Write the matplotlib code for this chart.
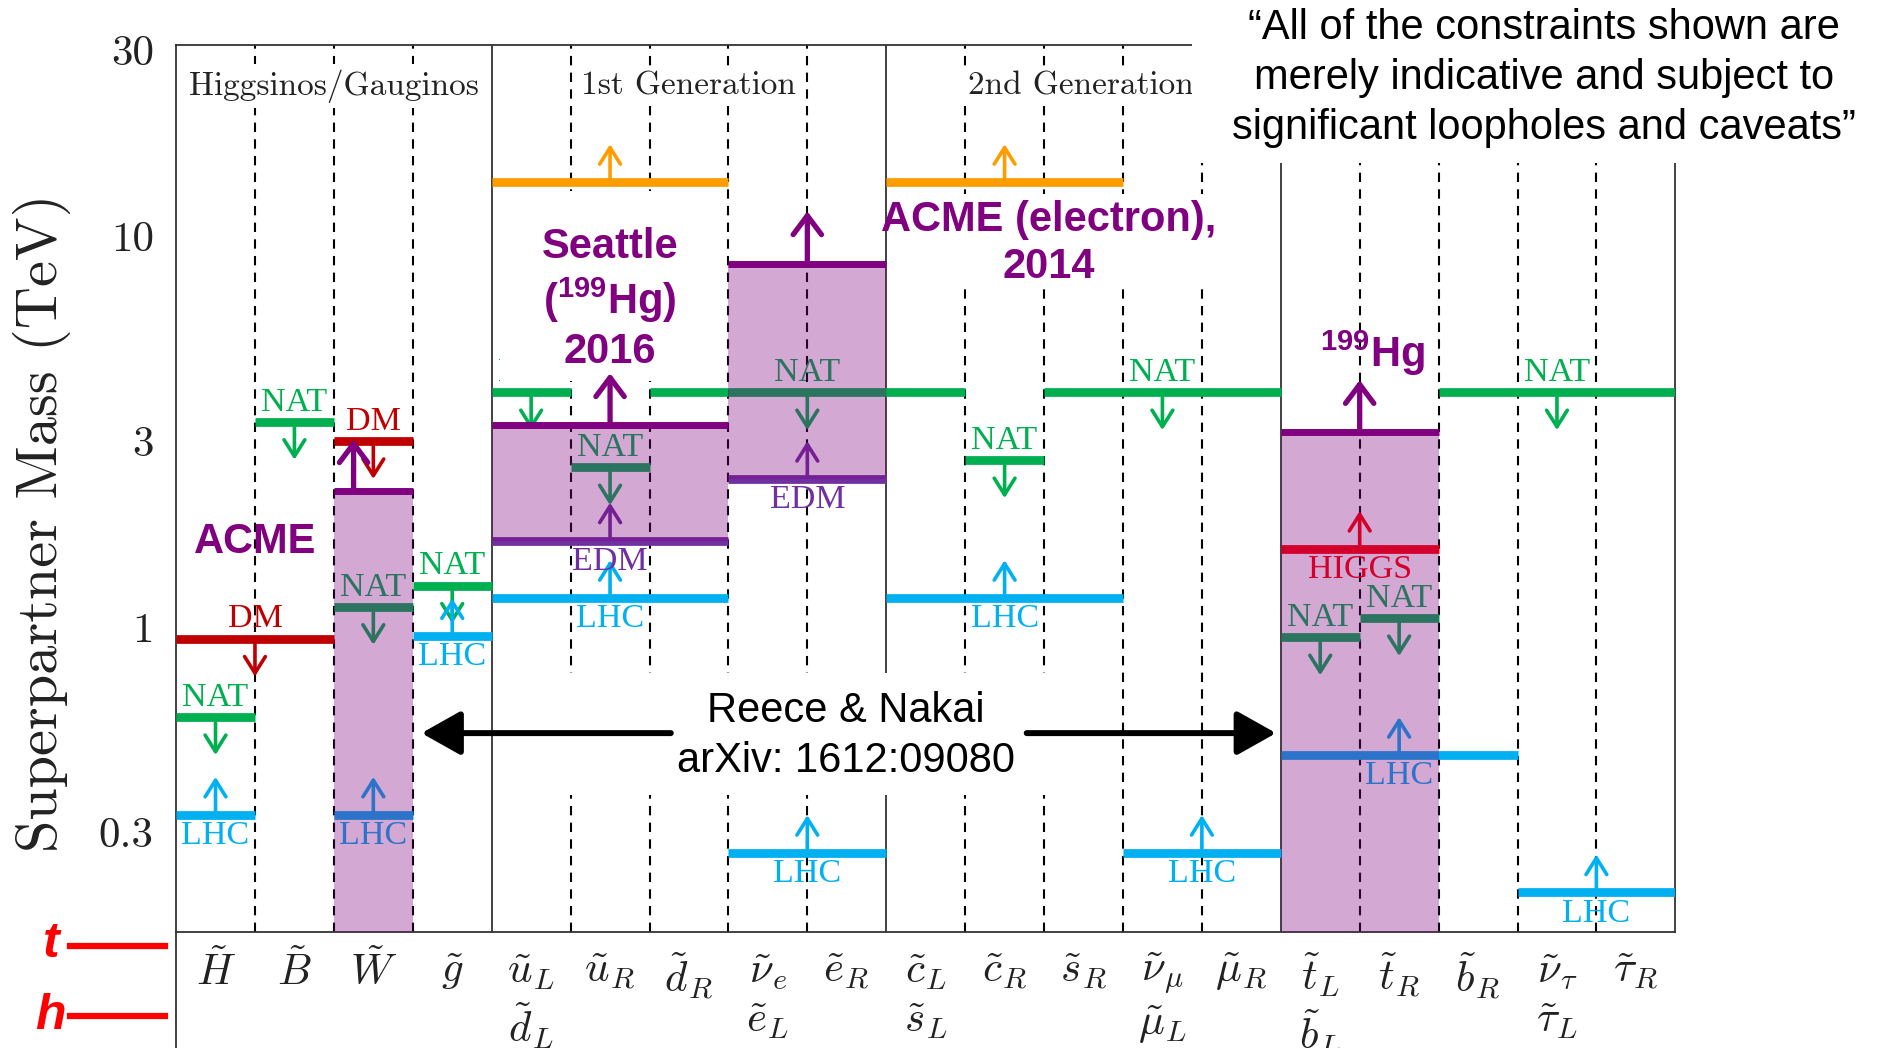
import matplotlib.pyplot as plt
from matplotlib.patches import Rectangle
from matplotlib.lines import Line2D
import numpy as np

plt.rcParams['mathtext.fontset'] = 'cm'
plt.rcParams['mathtext.rm'] = 'Liberation Sans'
plt.rcParams['mathtext.bf'] = 'Liberation Sans:bold'

# superpartner columns (one per column on the x axis)
columns = [r'$\tilde{H}$', r'$\tilde{B}$', r'$\tilde{W}$', r'$\tilde{g}$',
           '$\\tilde{u}_L$\n$\\tilde{d}_L$', r'$\tilde{u}_R$', r'$\tilde{d}_R$',
           '$\\tilde{\\nu}_e$\n$\\tilde{e}_L$', r'$\tilde{e}_R$',
           '$\\tilde{c}_L$\n$\\tilde{s}_L$', r'$\tilde{c}_R$', r'$\tilde{s}_R$',
           '$\\tilde{\\nu}_\\mu$\n$\\tilde{\\mu}_L$', r'$\tilde{\mu}_R$',
           '$\\tilde{t}_L$\n$\\tilde{b}_L$', r'$\tilde{t}_R$', r'$\tilde{b}_R$',
           '$\\tilde{\\nu}_\\tau$\n$\\tilde{\\tau}_L$', r'$\tilde{\tau}_R$']
groups = ['Higgsinos/Gauginos', '1st Generation', '2nd Generation']
group_edges = [4, 9, 14]

# naturalness upper bounds (TeV)
nat_start = [0, 1, 2, 3, 4, 5, 6, 7, 9, 10, 11, 14, 15, 16]
nat_end = [1, 2, 3, 4, 5, 6, 7, 9, 10, 11, 14, 15, 16, 19]
nat_mass = [0.59, 3.36, 1.13, 1.28, 4.0, 2.57, 4.0, 4.0, 4.0, 2.68, 4.0, 0.944, 1.057, 4.0]
nat_at = [0.5, 1.5, 2.5, 3.5, 4.5, 5.5, None, 8.0, None, 10.5, 12.5, 14.5, 15.5, 17.5]

# LHC lower bounds (TeV)
lhc_start = [0, 2, 3, 4, 7, 9, 12, 14, 17]
lhc_end = [1, 3, 4, 7, 9, 12, 14, 17, 19]
lhc_mass = [0.332, 0.332, 0.95, 1.19, 0.265, 1.19, 0.265, 0.472, 0.21]
lhc_at = [0.5, 2.5, 3.5, 5.5, 8.0, 10.5, 13.0, 15.5, 18.0]

# dark matter upper bounds
dm_start = [0, 2]
dm_end = [2, 3]
dm_mass = [0.937, 3.0]
dm_at = [1.0, 2.5]

# higgs mass lower bound
higgs_start = [14]
higgs_end = [16]
higgs_mass = [1.59]
higgs_at = [15.0]

# flavor (orange) lower bounds
flav_start = [4, 9]
flav_end = [7, 12]
flav_mass = [13.8, 13.8]
flav_at = [5.5, 10.5]

# previous EDM bounds
edm_start = [4, 7]
edm_end = [7, 9]
edm_mass = [1.67, 2.40]
edm_at = [5.5, 8.0]

# new EDM reach (shaded), None = from bottom of axis
new_start = [2, 4, 7, 14]
new_end = [3, 7, 9, 16]
new_low = [None, 1.67, 2.40, None]
new_high = [2.23, 3.29, 8.54, 3.16]
new_at = [2.25, 5.5, 8.0, 15.0]

ylo, yhi = 0.166, 30.85

fig = plt.figure(figsize=(18.79, 10.48), dpi=100)
ax = fig.add_axes([0.0937, 0.1103, 0.7979, 0.8463])
ax.set_yscale('log')
ax.set_xlim(0, 19)
ax.set_ylim(ylo, yhi)

for s in ax.spines.values():
    s.set_color('#333333')
    s.set_linewidth(1.3)

for i in range(1, 19):
    if i in group_edges:
        ax.axvline(i, color='#333333', lw=1.3, zorder=1)
    else:
        ax.axvline(i, color='black', lw=1.5, ls=(0, (4.5, 3.5)), zorder=1)

lab_font = dict(family='Liberation Serif', fontsize=24.5, ha='center', va='center', zorder=3)
ARR = 1.25


def bound(x0, x1, m, xm, color, label, up, below):
    ax.hlines(m, x0, x1, colors=color, lw=6.3, zorder=3)
    if xm is None:
        return
    tip = m * ARR if up else m / ARR
    ax.annotate('', xy=(xm, tip), xytext=(xm, m),
                arrowprops=dict(arrowstyle='->, head_length=0.35, head_width=0.22',
                                color=color, lw=2.6, mutation_scale=34,
                                shrinkA=0, shrinkB=0), zorder=3)
    if label:
        off = -15 if below else 14
        ax.annotate(label, (xm, m), xytext=(0, off), textcoords='offset points',
                    color=color, **lab_font)


for a, b, m, xm in zip(nat_start, nat_end, nat_mass, nat_at):
    bound(a, b, m, xm, '#00b050', 'NAT', False, False)
for a, b, m, xm in zip(lhc_start, lhc_end, lhc_mass, lhc_at):
    bound(a, b, m, xm, '#00b0f0', 'LHC', True, True)
for a, b, m, xm in zip(dm_start, dm_end, dm_mass, dm_at):
    bound(a, b, m, xm, '#c00000', 'DM', False, False)
for a, b, m, xm in zip(higgs_start, higgs_end, higgs_mass, higgs_at):
    bound(a, b, m, xm, '#ff0000', 'HIGGS', True, True)
for a, b, m, xm in zip(flav_start, flav_end, flav_mass, flav_at):
    bound(a, b, m, xm, '#ff9d00', None, True, False)
for a, b, m, xm in zip(edm_start, edm_end, edm_mass, edm_at):
    bound(a, b, m, xm, '#7030a0', 'EDM', True, True)

# new EDM reach boxes
for a, b, lo, hi, xm in zip(new_start, new_end, new_low, new_high, new_at):
    lo = ylo if lo is None else lo
    ax.add_patch(Rectangle((a, lo), b - a, hi - lo, color='#800080', alpha=0.34,
                           lw=0, zorder=4))
    ax.hlines(hi, a, b, colors='#800080', lw=5, zorder=5)
    ax.annotate('', xy=(xm, hi * 1.36), xytext=(xm, hi),
                arrowprops=dict(arrowstyle='->, head_length=0.4, head_width=0.3',
                                color='#800080', lw=3.8, mutation_scale=34,
                                shrinkA=0, shrinkB=0), zorder=5)

# white areas behind the annotations
for (x0, y0, x1, y1) in [(4.1, 4.27, 6.93, 13.1), (9.08, 7.36, 13.11, 12.86),
                         (4.75, 0.372, 11.13, 0.764)]:
    ax.add_patch(Rectangle((x0, y0), x1 - x0, y1 - y0, color='white', lw=0, zorder=3.5))

# group titles
for g, x in zip(groups, [2.0, 6.49, 11.47]):
    ax.text(x, 24.3, g, family='cmr10', fontsize=24, ha='center', va='center', zorder=3.6,
            color='#222222', bbox=dict(fc='white', ec='none', pad=4))

big = dict(family='Liberation Sans', fontsize=30, fontweight='bold', color='#800080',
           ha='center', va='center', zorder=6, math_fontfamily='custom')
ax.text(1.0, 1.66, 'ACME', **big)
ax.text(5.5, 6.91, 'Seattle\n($^{\\mathbf{199}}$Hg)\n2016', linespacing=1.22, **big)
ax.text(11.06, 9.63, 'ACME (electron),\n2014', linespacing=1.22, **big)
ax.text(15.16, 5.03, '$^{\\mathbf{199}}$Hg', **big)

ax.text(8.49, 0.529, 'Reece & Nakai\narXiv: 1612:09080', family='Liberation Sans',
        fontsize=30, ha='center', va='center', linespacing=1.32, zorder=6)
for tail, head in [(6.27, 3.11), (10.78, 13.94)]:
    ax.annotate('', xy=(head, 0.537), xytext=(tail, 0.537),
                arrowprops=dict(arrowstyle='-|>, head_length=0.8, head_width=0.45',
                                color='black', lw=4.3, mutation_scale=30,
                                shrinkA=0, shrinkB=0), zorder=6)

ax.set_xticks(np.arange(19) + 0.5)
ax.set_xticklabels(columns, fontsize=31, math_fontfamily='cm', color='#222222')
ax.set_yticks([0.3, 1, 3, 10, 30])
ax.set_yticklabels(['0.3', '1', '3', '10', '30'], family='cmr10', fontsize=31, color='#222222')
ax.minorticks_off()
ax.tick_params(axis='x', length=0, pad=13)
ax.tick_params(axis='y', length=0, pad=16)

fig.text(0.0223, 0.5014, 'Superpartner Mass (TeV)', family='cmr10', fontsize=42,
         rotation=90, ha='center', va='center', color='#222222')

# left side extension of the frame and t / h legend
fig.add_artist(Line2D([0.0937, 0.0937], [0, 0.1103], transform=fig.transFigure,
                      color='#333333', lw=1.3))
for ch, ty, ly in [('t', 0.099, 0.0978), ('h', 0.0305, 0.0305)]:
    fig.text(0.027, ty, ch, color='red', fontsize=36, fontweight='bold', fontstyle='italic',
             family='Liberation Sans', ha='center', va='center')
    fig.add_artist(Line2D([0.037, 0.088], [ly, ly], transform=fig.transFigure,
                          color='red', lw=4.5))

# quote box in the top right corner
fig.add_artist(Rectangle((0.6346, 0.8445), 0.3654, 0.1555, transform=fig.transFigure,
                         color='white', lw=0, zorder=10))
fig.text(0.8218, 0.9257, '\u201cAll of the constraints shown are\nmerely indicative and subject to\n'
         'significant loopholes and caveats\u201d', family='Liberation Sans', fontsize=30,
         ha='center', va='center', linespacing=1.32, zorder=11)

fig.savefig('out.png', dpi=100)
